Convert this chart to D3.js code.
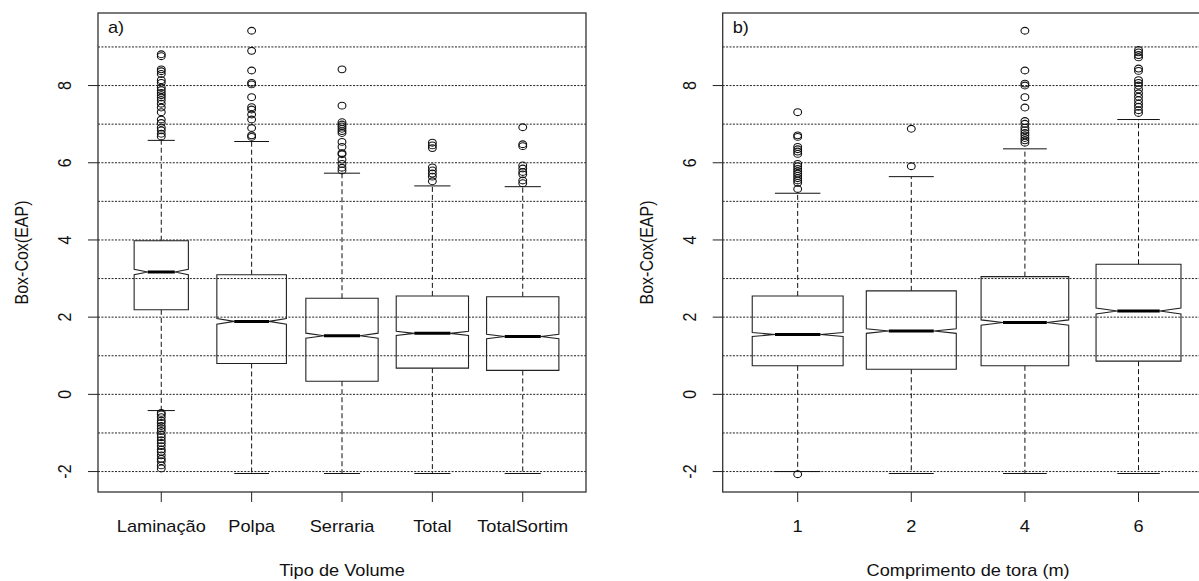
<!DOCTYPE html>
<html>
<head>
<meta charset="utf-8">
<script src="https://cdn.jsdelivr.net/npm/d3@7"></script>
<style>
  html, body { margin: 0; padding: 0; background: #fff; }
  svg { display: block; }
  text { font-family: "Liberation Sans", Arial, sans-serif; fill: #111; }
</style>
</head>
<body>
<svg id="chart" width="1199" height="581"></svg>
<script>
// Panel a) — Box-Cox(EAP) by volume type
const volumeTypes = ["Laminação", "Polpa", "Serraria", "Total", "TotalSortim"];
const volumeLowWhisker = [-0.42, -2.05, -2.05, -2.05, -2.05];
const volumeQ1 = [2.19, 0.80, 0.34, 0.68, 0.62];
const volumeMedian = [3.17, 1.89, 1.52, 1.58, 1.50];
const volumeQ3 = [3.98, 3.10, 2.49, 2.55, 2.53];
const volumeHighWhisker = [6.58, 6.55, 5.73, 5.40, 5.38];
const volumeCount = [1520, 2500, 2700, 2700, 2700];
const volumeOutliers = [
  [8.81, 8.76, 8.42, 8.37, 8.30, 8.14, 8.07, 7.95, 7.88, 7.81, 7.75, 7.69, 7.62, 7.53, 7.43, 7.31, 7.12, 7.03, 6.91, 6.84, 6.75, 6.68,
   -0.48, -0.52, -0.59, -0.68, -0.74, -0.82, -0.88, -0.95, -1.04, -1.11, -1.19, -1.26, -1.34, -1.43, -1.49, -1.58, -1.67, -1.73, -1.84, -1.92],
  [9.42, 8.90, 8.39, 8.07, 8.03, 7.70, 7.44, 7.38, 7.25, 7.12, 6.90, 6.71, 6.67],
  [8.42, 7.48, 7.05, 6.99, 6.94, 6.88, 6.82, 6.77, 6.54, 6.41, 6.25, 6.22, 6.08, 5.97, 5.87, 5.80],
  [6.52, 6.45, 6.38, 5.88, 5.80, 5.72, 5.64, 5.52],
  [6.92, 6.48, 6.43, 5.93, 5.85, 5.76, 5.70, 5.54, 5.47]
];

// Panel b) — Box-Cox(EAP) by log length
const logLengths = ["1", "2", "4", "6"];
const lengthLowWhisker = [-2.00, -2.05, -2.05, -2.05];
const lengthQ1 = [0.74, 0.65, 0.74, 0.86];
const lengthMedian = [1.55, 1.64, 1.86, 2.16];
const lengthQ3 = [2.55, 2.68, 3.05, 3.37];
const lengthHighWhisker = [5.21, 5.64, 6.36, 7.12];
const lengthCount = [3000, 2940, 2790, 2620];
const lengthOutliers = [
  [7.31, 6.71, 6.67, 6.41, 6.35, 6.29, 6.23, 5.97, 5.91, 5.84, 5.78, 5.72, 5.66, 5.60, 5.54, 5.48, 5.32, -2.07],
  [6.88, 5.91],
  [9.42, 8.39, 8.05, 8.00, 7.70, 7.43, 7.08, 7.01, 6.91, 6.84, 6.77, 6.71, 6.64, 6.58, 6.52],
  [8.92, 8.86, 8.79, 8.73, 8.44, 8.38, 8.14, 8.07, 8.00, 7.90, 7.80, 7.71, 7.62, 7.53, 7.45, 7.36, 7.29]
];

const yTicks = [-2, 0, 2, 4, 6, 8];
const yGrid = d3.range(-2, 10);
const yTitle = "Box-Cox(EAP)";

const svg = d3.select("#chart");
const TEXT_STRETCH = 1.137;   // glyphs are slightly wide in this layout
const plotTop = 13, plotBottom = 492;

// shared value axis, padded 4% like base R
const allVals = [].concat(volumeLowWhisker, volumeHighWhisker, lengthLowWhisker, lengthHighWhisker,
  ...volumeOutliers, ...lengthOutliers);
const [vmin, vmax] = d3.extent(allVals);
const pad = (vmax - vmin) * 0.04;
const y = d3.scaleLinear().domain([vmin - pad, vmax + pad]).range([plotBottom, plotTop]);

function panel(opts) {
  const {left, right, tag, cats, lo, q1, med, q3, hi, count, outliers, xTitle} = opts;
  const n = cats.length;
  const x = d3.scaleLinear()
    .domain([0.5 - 0.04 * n, n + 0.5 + 0.04 * n])
    .range([left, right]);
  const g = svg.append("g");
  const maxN = d3.max(count);
  const pxPerUnit = x(1) - x(0);

  // dotted horizontal reference lines
  g.append("g").selectAll("line").data(yGrid).join("line")
    .attr("x1", left).attr("x2", right)
    .attr("y1", d => y(d)).attr("y2", d => y(d))
    .attr("stroke", "#222").attr("stroke-width", 1)
    .attr("stroke-dasharray", "2,1.4");

  cats.forEach((c, i) => {
    const cx = x(i + 1);
    const hw = 0.4 * Math.sqrt(count[i] / maxN) * pxPerUnit;
    const iqr = q3[i] - q1[i];
    const half = 1.58 * iqr / Math.sqrt(count[i]);
    const cLo = med[i] - half, cHi = med[i] + half;
    const bg = g.append("g");

    // whiskers
    bg.append("line").attr("x1", cx).attr("x2", cx)
      .attr("y1", y(q3[i])).attr("y2", y(hi[i]))
      .attr("stroke", "#111").attr("stroke-dasharray", "5,3");
    bg.append("line").attr("x1", cx).attr("x2", cx)
      .attr("y1", y(q1[i])).attr("y2", y(lo[i]))
      .attr("stroke", "#111").attr("stroke-dasharray", "5,3");
    // staples
    [hi[i], lo[i]].forEach(v => {
      bg.append("line").attr("x1", cx - hw / 2).attr("x2", cx + hw / 2)
        .attr("y1", y(v)).attr("y2", y(v))
        .attr("stroke", "#111").attr("stroke-width", 1);
    });

    // notched box
    const pts = [
      [cx - hw, y(q1[i])], [cx + hw, y(q1[i])], [cx + hw, y(cLo)], [cx + hw * 0.5, y(med[i])],
      [cx + hw, y(cHi)], [cx + hw, y(q3[i])], [cx - hw, y(q3[i])], [cx - hw, y(cHi)],
      [cx - hw * 0.5, y(med[i])], [cx - hw, y(cLo)]
    ];
    bg.append("path").attr("d", d3.line()(pts) + "Z")
      .attr("fill", "none").attr("stroke", "#222").attr("stroke-width", 1.1);
    // median
    bg.append("line").attr("x1", cx - hw * 0.5).attr("x2", cx + hw * 0.5)
      .attr("y1", y(med[i])).attr("y2", y(med[i]))
      .attr("stroke", "#000").attr("stroke-width", 3);

    // outliers
    bg.selectAll("ellipse").data(outliers[i]).join("ellipse")
      .attr("cx", cx).attr("cy", d => y(d))
      .attr("rx", 3.9).attr("ry", 3.4)
      .attr("fill", "none").attr("stroke", "#111").attr("stroke-width", 1.1);
  });

  // frame
  g.append("rect").attr("x", left).attr("y", plotTop)
    .attr("width", right - left).attr("height", plotBottom - plotTop)
    .attr("fill", "none").attr("stroke", "#333").attr("stroke-width", 1.3);

  // value axis
  g.append("g").selectAll("line").data(yTicks).join("line")
    .attr("x1", left - 10).attr("x2", left)
    .attr("y1", d => y(d)).attr("y2", d => y(d))
    .attr("stroke", "#222");
  g.append("g").selectAll("text").data(yTicks).join("text")
    .attr("transform", d => `translate(${left - 33},${y(d)}) scale(${TEXT_STRETCH},1) rotate(-90)`)
    .attr("text-anchor", "middle").attr("dy", "0.35em")
    .attr("font-size", 16).text(d => d);
  g.append("text")
    .attr("transform", `translate(${left - 76},${(plotTop + plotBottom) / 2}) scale(${TEXT_STRETCH},1) rotate(-90)`)
    .attr("text-anchor", "middle").attr("dy", "0.35em")
    .attr("font-size", 16).text(yTitle);

  // category axis
  g.append("g").selectAll("line").data(cats).join("line")
    .attr("x1", (d, i) => x(i + 1)).attr("x2", (d, i) => x(i + 1))
    .attr("y1", plotBottom).attr("y2", plotBottom + 10)
    .attr("stroke", "#222");
  g.append("g").selectAll("text").data(cats).join("text")
    .attr("transform", (d, i) => `translate(${x(i + 1)},532) scale(${TEXT_STRETCH},1)`)
    .attr("text-anchor", "middle").attr("font-size", 16).text(d => d);
  g.append("text")
    .attr("transform", `translate(${(left + right) / 2},576) scale(${TEXT_STRETCH},1)`)
    .attr("text-anchor", "middle").attr("font-size", 16).text(xTitle);

  // panel tag
  g.append("text")
    .attr("transform", `translate(${left + 10},33) scale(${TEXT_STRETCH},1)`)
    .attr("font-size", 16).text(tag);
}

panel({
  left: 98, right: 586, tag: "a)", cats: volumeTypes,
  lo: volumeLowWhisker, q1: volumeQ1, med: volumeMedian, q3: volumeQ3, hi: volumeHighWhisker,
  count: volumeCount, outliers: volumeOutliers, xTitle: "Tipo de Volume"
});
panel({
  left: 722.7, right: 1213.5, tag: "b)", cats: logLengths,
  lo: lengthLowWhisker, q1: lengthQ1, med: lengthMedian, q3: lengthQ3, hi: lengthHighWhisker,
  count: lengthCount, outliers: lengthOutliers, xTitle: "Comprimento de tora (m)"
});
</script>
</body>
</html>
